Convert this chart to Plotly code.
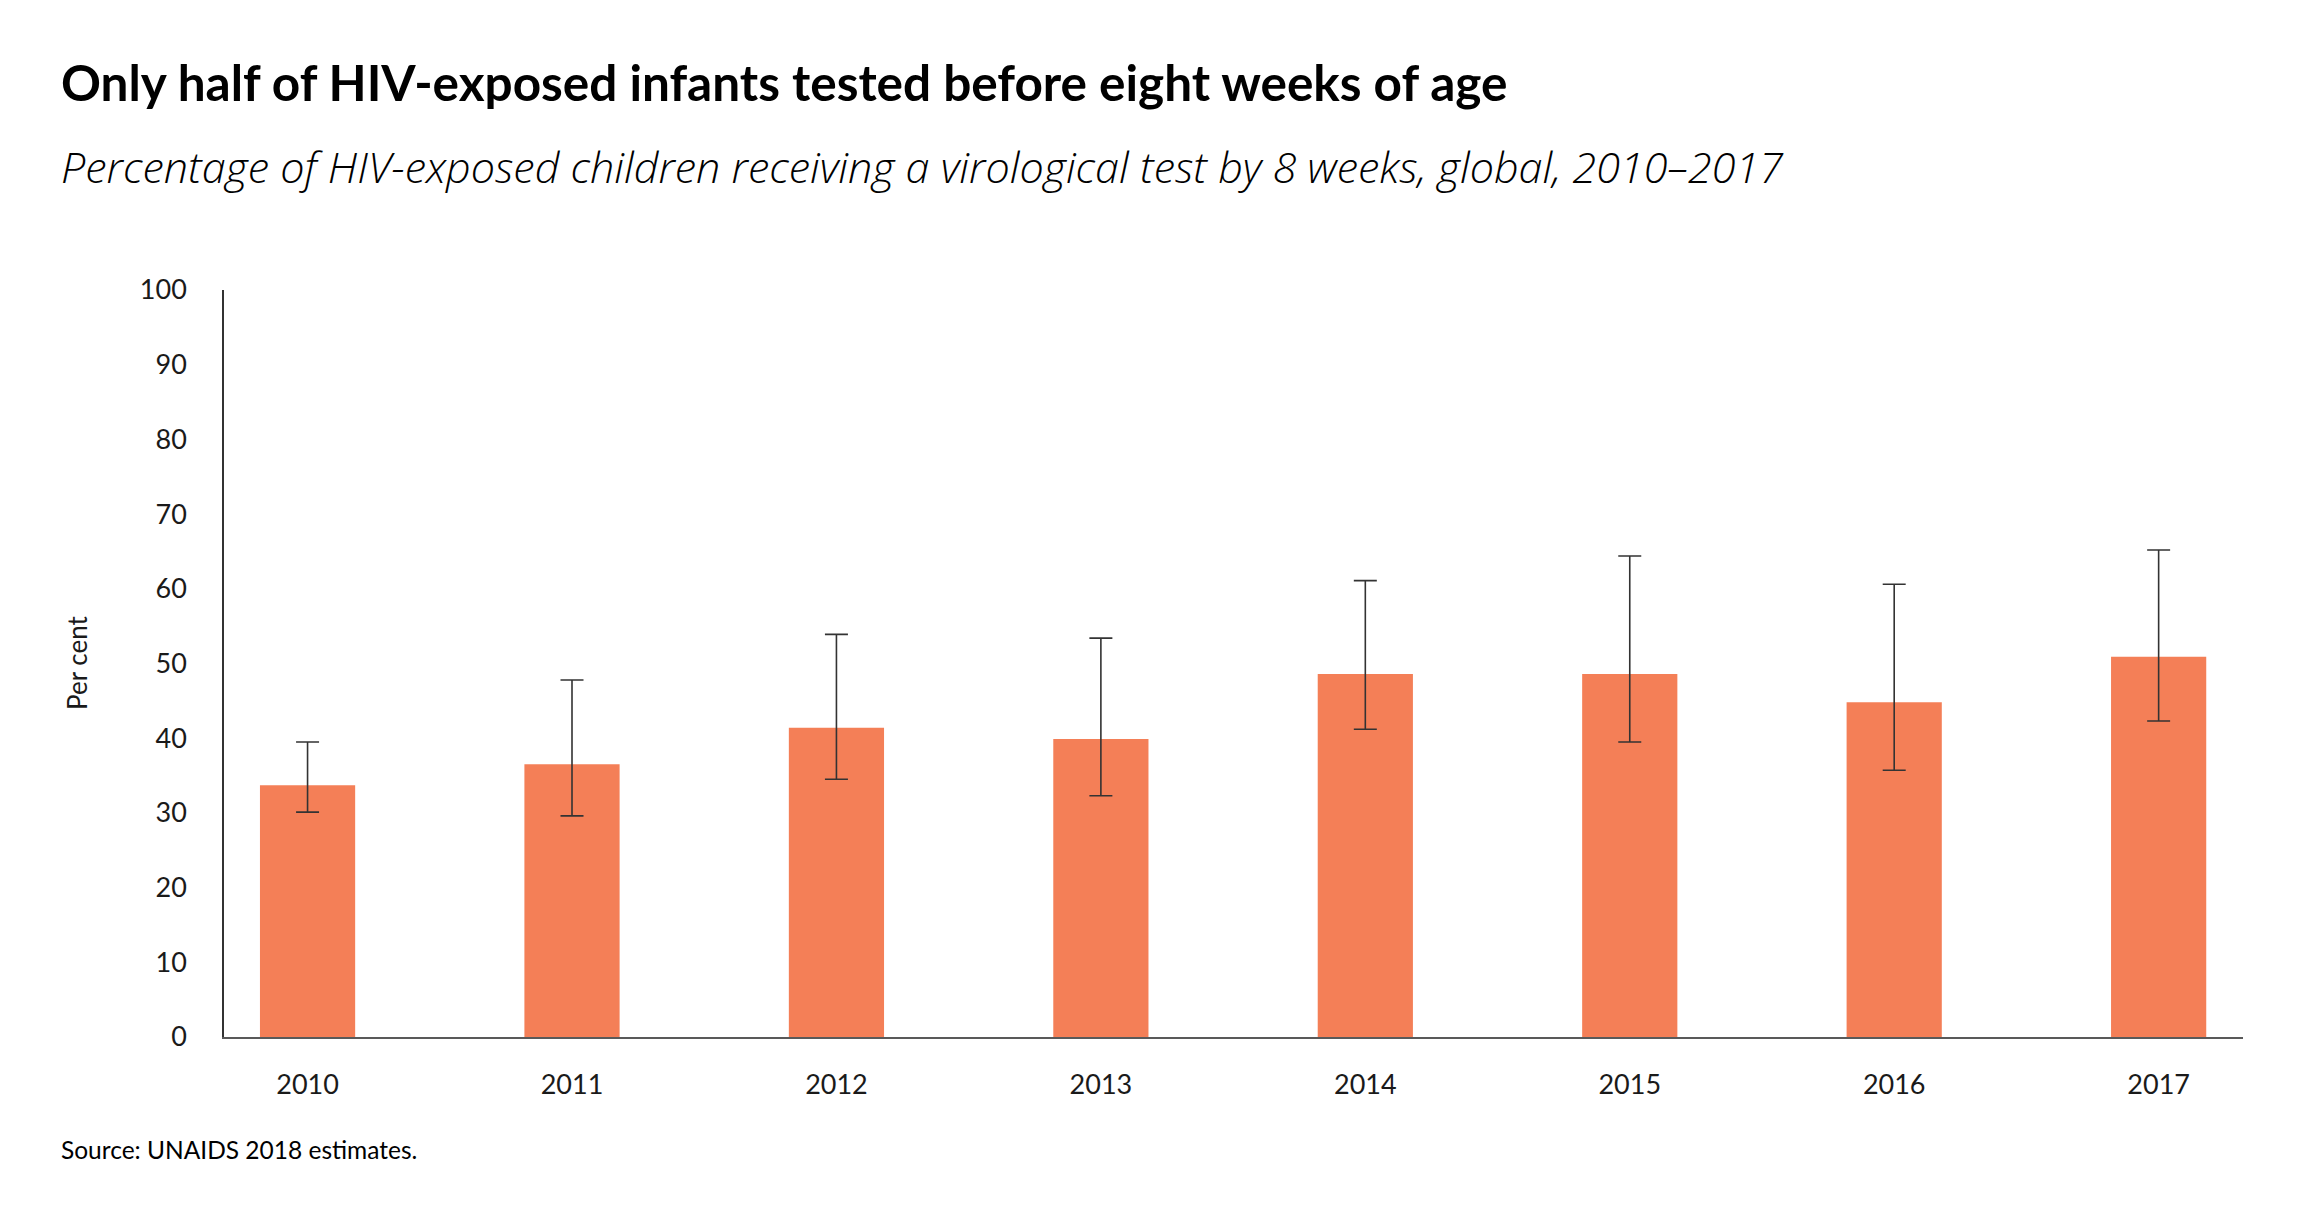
import plotly.graph_objects as go

years = ["2010", "2011", "2012", "2013", "2014", "2015", "2016", "2017"]
values = [33.7, 36.5, 41.4, 39.9, 48.6, 48.6, 44.8, 50.9]
upper = [39.5, 47.8, 53.9, 53.4, 61.1, 64.4, 60.6, 65.2]
lower = [30.1, 29.6, 34.5, 32.3, 41.2, 39.5, 35.7, 42.3]
y_ticks = [0, 10, 20, 30, 40, 50, 60, 70, 80, 90, 100]

title = "Only half of HIV-exposed infants tested before eight weeks of age"
subtitle = "Percentage of HIV-exposed children receiving a virological test by 8 weeks, global, 2010\u20132017"
source = "Source: UNAIDS 2018 estimates."
y_title = "Per cent"

FONT = "Lato"
OFF = 8  # page body margin
W, H = 2303, 1217
PW, PH = 2019, 747
L, T = 224 - OFF, 290 - OFF
R = W - L - PW
B = H - T - PH

def px_x(px):
    return (px - OFF - L) / PW

def px_y(py):
    return (T + PH - (py - OFF)) / PH

err_plus = [u - v for u, v in zip(upper, values)]
err_minus = [v - l for v, l in zip(values, lower)]

fig = go.Figure()
fig.add_trace(go.Bar(
    x=years, y=values, width=0.36,
    marker=dict(color="#F47F57", line=dict(width=0)),
    error_y=dict(type="data", symmetric=False, array=err_plus, arrayminus=err_minus,
                 color="#333333", thickness=1.6, width=11.5),
    hoverinfo="x+y",
))

fig.update_layout(
    width=W, height=H,
    margin=dict(l=L, r=R, t=T, b=B, autoexpand=False),
    paper_bgcolor="white", plot_bgcolor="white",
    showlegend=False,
    font=dict(family=FONT, color="#1a1a1a", size=26),
    xaxis=dict(type="category", range=[-0.316, 7.319], showline=True, linecolor="#595959",
               linewidth=2, showgrid=False, zeroline=False, ticks="",
               tickfont=dict(family=FONT, size=27, color="#1a1a1a"), ticklabelstandoff=23),
    yaxis=dict(range=[0, 100], tickvals=y_ticks, showline=True, linecolor="#333333",
               linewidth=1.5, showgrid=False, zeroline=False, ticks="",
               tickfont=dict(family=FONT, size=27, color="#1a1a1a"), ticklabelstandoff=30),
    annotations=[
        dict(text=title, xref="paper", yref="paper", x=px_x(59), y=px_y(114),
             xanchor="left", yanchor="bottom", showarrow=False,
             font=dict(family=FONT, size=49.5, color="#000000", weight=700)),
        dict(text="<i>" + subtitle + "</i>", xref="paper", yref="paper", x=px_x(59), y=px_y(198),
             xanchor="left", yanchor="bottom", showarrow=False,
             font=dict(family="Open Sans", size=43.1, color="#000000", weight=300)),
        dict(text=source, xref="paper", yref="paper", x=px_x(59), y=px_y(1166),
             xanchor="left", yanchor="bottom", showarrow=False,
             font=dict(family=FONT, size=24.5, color="#000000")),
        dict(text=y_title, xref="paper", yref="paper", x=px_x(76.5), y=0.5,
             xanchor="center", yanchor="middle", textangle=-90, showarrow=False,
             font=dict(family=FONT, size=26, color="#1a1a1a")),
    ],
)

fig.write_html("out.html")
